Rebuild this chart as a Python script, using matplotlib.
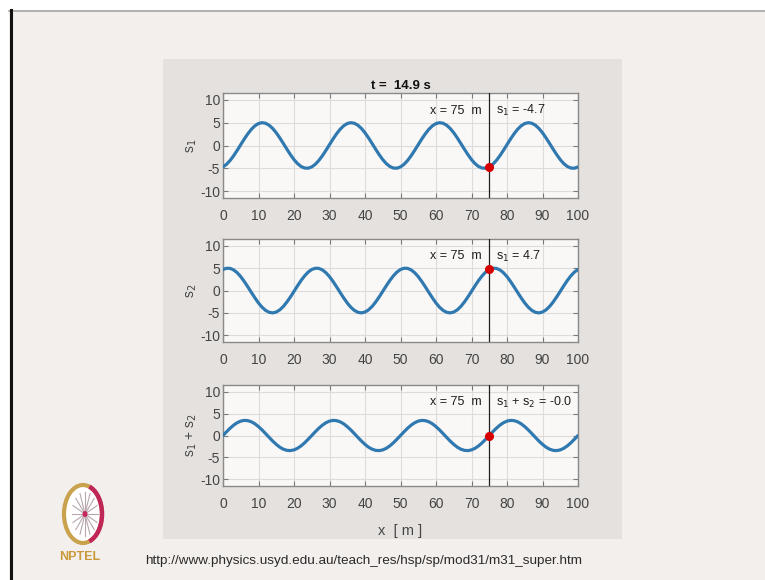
import matplotlib
matplotlib.use("Agg")
import matplotlib.pyplot as plt
from matplotlib.patches import Rectangle, Ellipse, Arc
from matplotlib.lines import Line2D
import numpy as np

# ─────────────────────────────────────────────────────────────────────────────
# DATA (one sample per metre)
# ─────────────────────────────────────────────────────────────────────────────
x_m = list(range(0, 101))

s1 = [-4.69, -4.12, -3.28, -2.24, -1.06, 0.19, 1.43, 2.57, 3.56, 4.32, 4.81, 5.00, 4.87,
      4.44, 3.73, 2.79, 1.66, 0.44, -0.81, -2.01, -3.09, -3.97, -4.60, -4.94, -4.97,
      -4.69, -4.12, -3.28, -2.24, -1.06, 0.19, 1.43, 2.57, 3.56, 4.32, 4.81, 5.00, 4.87,
      4.44, 3.73, 2.79, 1.66, 0.44, -0.81, -2.01, -3.09, -3.97, -4.60, -4.94, -4.97,
      -4.69, -4.12, -3.28, -2.24, -1.06, 0.19, 1.43, 2.57, 3.56, 4.32, 4.81, 5.00, 4.87,
      4.44, 3.73, 2.79, 1.66, 0.44, -0.81, -2.01, -3.09, -3.97, -4.60, -4.94, -4.97,
      -4.69, -4.12, -3.28, -2.24, -1.06, 0.19, 1.43, 2.57, 3.56, 4.32, 4.81, 5.00, 4.87,
      4.44, 3.73, 2.79, 1.66, 0.44, -0.81, -2.01, -3.09, -3.97, -4.60, -4.94, -4.97,
      -4.69]

s2 = [4.69, 4.97, 4.94, 4.60, 3.97, 3.09, 2.01, 0.81, -0.44, -1.66, -2.79, -3.73, -4.44,
      -4.87, -5.00, -4.81, -4.32, -3.56, -2.57, -1.43, -0.19, 1.06, 2.24, 3.28, 4.12,
      4.69, 4.97, 4.94, 4.60, 3.97, 3.09, 2.01, 0.81, -0.44, -1.66, -2.79, -3.73, -4.44,
      -4.87, -5.00, -4.81, -4.32, -3.56, -2.57, -1.43, -0.19, 1.06, 2.24, 3.28, 4.12,
      4.69, 4.97, 4.94, 4.60, 3.97, 3.09, 2.01, 0.81, -0.44, -1.66, -2.79, -3.73, -4.44,
      -4.87, -5.00, -4.81, -4.32, -3.56, -2.57, -1.43, -0.19, 1.06, 2.24, 3.28, 4.12,
      4.69, 4.97, 4.94, 4.60, 3.97, 3.09, 2.01, 0.81, -0.44, -1.66, -2.79, -3.73, -4.44,
      -4.87, -5.00, -4.81, -4.32, -3.56, -2.57, -1.43, -0.19, 1.06, 2.24, 3.28, 4.12,
      4.69]

s_sum = [0.00, 0.85, 1.66, 2.36, 2.91, 3.28, 3.44, 3.38, 3.12, 2.66, 2.02, 1.27, 0.43,
         -0.43, -1.27, -2.02, -2.66, -3.12, -3.38, -3.44, -3.28, -2.91, -2.36, -1.66, -0.85,
         0.00, 0.85, 1.66, 2.36, 2.91, 3.28, 3.44, 3.38, 3.12, 2.66, 2.02, 1.27, 0.43,
         -0.43, -1.27, -2.02, -2.66, -3.12, -3.38, -3.44, -3.28, -2.91, -2.36, -1.66, -0.85,
         0.00, 0.85, 1.66, 2.36, 2.91, 3.28, 3.44, 3.38, 3.12, 2.66, 2.02, 1.27, 0.43,
         -0.43, -1.27, -2.02, -2.66, -3.12, -3.38, -3.44, -3.28, -2.91, -2.36, -1.66, -0.85,
         0.00, 0.85, 1.66, 2.36, 2.91, 3.28, 3.44, 3.38, 3.12, 2.66, 2.02, 1.27, 0.43,
         -0.43, -1.27, -2.02, -2.66, -3.12, -3.38, -3.44, -3.28, -2.91, -2.36, -1.66, -0.85,
         0.00]

probe_x = 75
probe_vals = [-4.7, 4.7, -0.0]
probe_texts = ["s$_1$ = -4.7", "s$_1$ = 4.7", "s$_1$ + s$_2$ = -0.0"]
y_labels = ["s$_1$", "s$_2$", "s$_1$ + s$_2$"]
x_ticks = [0, 10, 20, 30, 40, 50, 60, 70, 80, 90, 100]
y_ticks = [-10, -5, 0, 5, 10]
title_text = "t =  14.9 s"
url_text = "http://www.physics.usyd.edu.au/teach_res/hsp/sp/mod31/m31_super.htm"
# ─────────────────────────────────────────────────────────────────────────────

W, H = 765, 580
SLIDE_BG = "#f3efec"
PANEL_BG = "#e5e1de"
AX_BG = "#f9f8f7"
CURVE = "#3079b0"
TXT = "#444444"
FONT = ["Liberation Sans", "DejaVu Sans"]

plt.rcParams["axes.unicode_minus"] = False


def fx(px):
    return px / W


def fy(py):
    return 1 - py / H


fig = plt.figure(figsize=(W / 100, H / 100), dpi=100, facecolor=SLIDE_BG)

# slide frame: white strip on top/left, gray top rule, black left rule
fig.patches.append(Rectangle((0, fy(10)), 1, 1 - fy(10), transform=fig.transFigure,
                             facecolor="white", edgecolor="none", zorder=-3))
fig.patches.append(Rectangle((0, 0), fx(9), 1, transform=fig.transFigure,
                             facecolor="white", edgecolor="none", zorder=-3))
fig.lines.append(Line2D([fx(9), 1], [fy(10.5), fy(10.5)], transform=fig.transFigure,
                        color="#a8a4a2", lw=1.2, zorder=-2))
fig.lines.append(Line2D([fx(10.5), fx(10.5)], [0, fy(10)], transform=fig.transFigure,
                        color="#111111", lw=2.2, zorder=-2))

# gray figure panel
fig.patches.append(Rectangle((fx(163), fy(539)), fx(622 - 163), (539 - 59) / H,
                             transform=fig.transFigure, facecolor=PANEL_BG,
                             edgecolor="none", zorder=-3))

axes_px = [(93, 198), (239, 342), (385, 486)]
series = [s1, s2, s_sum]

for i, (top, bot) in enumerate(axes_px):
    ax = fig.add_axes([fx(223), fy(bot), fx(578 - 223), (bot - top) / H])
    ax.set_zorder(1)
    ax.set_facecolor(AX_BG)
    ax.plot(x_m, series[i], color=CURVE, lw=2.3, solid_capstyle="round", zorder=3)
    ax.axvline(probe_x, color="#202020", lw=0.9, zorder=4)
    ax.plot([probe_x], [probe_vals[i]], "o", color="#d60000", ms=5.5, zorder=5)

    ax.text(72.8, 7.6, "x = 75  m", ha="right", va="center", fontsize=9,
            color="#1e1e1e", family=FONT)
    ax.text(76.8, 7.6, probe_texts[i], ha="left", va="center", fontsize=9,
            color="#1e1e1e", family=FONT)

    ax.set_xlim(0, 100)
    ax.set_ylim(-11.5, 11.5)
    ax.set_xticks(x_ticks)
    ax.set_yticks(y_ticks)
    ax.grid(True, color="#dedcdb", lw=0.8, zorder=0)
    ax.tick_params(direction="in", length=3.5, width=0.8, colors="#7a7a7a",
                   top=True, right=True, labelsize=10, labelcolor=TXT)
    ax.tick_params(axis="x", pad=8)
    ax.tick_params(axis="y", pad=2)
    for lab in ax.get_xticklabels() + ax.get_yticklabels():
        lab.set_family(FONT)
    for sp in ax.spines.values():
        sp.set_color("#8a8a8a")
        sp.set_linewidth(1.0)
    ax.set_ylabel(y_labels[i], fontsize=10, color=TXT, family=FONT, labelpad=1)

    if i == 0:
        ax.set_title(title_text, fontsize=9.5, fontweight="bold", color="#111111",
                     family=FONT, pad=3)
    if i == 2:
        ax.set_xlabel("x  [ m ]", fontsize=10.5, color=TXT, family=FONT, labelpad=9)

# NPTEL logo (rough wheel) and label
wheel_c = (fx(83), fy(514))
fig.patches.append(Ellipse(wheel_c, fx(38), 58 / H, transform=fig.transFigure,
                           facecolor="white", edgecolor="#c9a24e", lw=3, zorder=1))
fig.patches.append(Arc(wheel_c, fx(38), 58 / H, theta1=-80, theta2=80,
                       transform=fig.transFigure, color="#c02658", lw=3.2, zorder=2))
for k in range(8):
    ang = np.pi * k / 8
    dx, dy = 13 * np.cos(ang), 22 * np.sin(ang)
    fig.lines.append(Line2D([fx(85 - dx), fx(85 + dx)], [fy(514 - dy), fy(514 + dy)],
                            transform=fig.transFigure, color="#b8a6ab", lw=0.8, zorder=2))
fig.patches.append(Ellipse((fx(85), fy(514)), fx(5), 6 / H, transform=fig.transFigure,
                           facecolor="#c8285e", edgecolor="none", zorder=3))
fig.text(fx(80), fy(557), "NPTEL", ha="center", va="center", fontsize=9,
         fontweight="bold", color="#c99a3a", family=FONT)

fig.text(fx(145), fy(561), url_text, ha="left", va="center", fontsize=9.7,
         color="#2a2a2a", family=FONT)

fig.savefig("out.png", dpi=100, facecolor=SLIDE_BG)
